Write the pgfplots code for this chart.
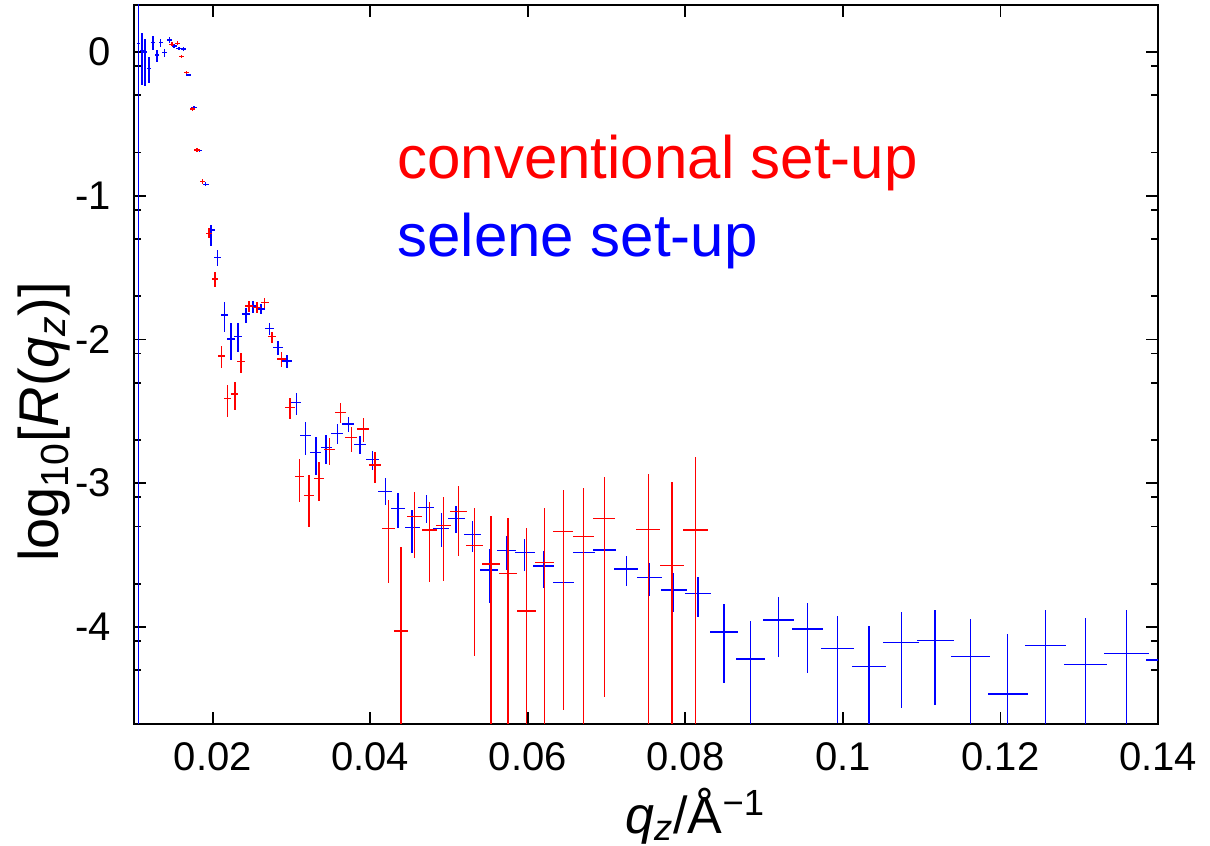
\documentclass[border=0pt]{standalone}
\usepackage{fontspec}
\setmainfont{Liberation Sans}
\usepackage{pgfplots}
\pgfplotsset{compat=1.18}
\usepackage{pgfplotstable}

\pgfplotstableread{
x y ex ep em
0.0106 0.061 0.00022 1 6
0.0110 0.010 0.00023 0.12 0.24
0.0114 0.000 0.00024 0.09 0.24
0.0119 -0.113 0.00025 0.08 0.10
0.0124 0.065 0.00026 0.046 0.051
0.0129 -0.021 0.00027 0.035 0.046
0.0134 0.065 0.00028 0.023 0.032
0.0139 -0.005 0.00029 0.024 0.028
0.0145 0.083 0.00030 0.02 0.02
0.0151 0.042 0.00032 0.015 0.015
0.0157 0.026 0.00033 0.012 0.012
0.0163 0.021 0.00034 0.012 0.012
0.0169 -0.160 0.00035 0.010 0.010
0.0176 -0.385 0.00037 0.012 0.012
0.0183 -0.687 0.00038 0.012 0.012
0.0191 -0.920 0.00040 0.015 0.015
0.0198 -1.238 0.00042 0.035 0.112
0.0206 -1.428 0.00043 0.051 0.061
0.0215 -1.830 0.00045 0.089 0.120
0.0223 -1.997 0.00047 0.110 0.146
0.0232 -1.981 0.00049 0.094 0.104
0.0242 -1.823 0.00051 0.040 0.060
0.0251 -1.767 0.00053 0.037 0.047
0.0261 -1.788 0.00055 0.035 0.037
0.0272 -1.922 0.00057 0.035 0.047
0.0283 -2.057 0.00059 0.047 0.051
0.0294 -2.150 0.00062 0.042 0.050
0.0306 -2.440 0.00064 0.070 0.085
0.0318 -2.669 0.00067 0.097 0.134
0.0331 -2.787 0.00070 0.111 0.156
0.0344 -2.753 0.00072 0.089 0.113
0.0358 -2.652 0.00075 0.064 0.075
0.0372 -2.588 0.00078 0.051 0.058
0.0387 -2.729 0.00081 0.058 0.070
0.0403 -2.833 0.00085 0.059 0.075
0.0419 -3.059 0.00088 0.093 0.092
0.0435 -3.174 0.00091 0.104 0.139
0.0453 -3.309 0.00095 0.123 0.174
0.0471 -3.170 0.00099 0.088 0.104
0.0490 -3.313 0.00103 0.104 0.133
0.0509 -3.244 0.00107 0.086 0.100
0.0530 -3.355 0.00111 0.092 0.121
0.0551 -3.603 0.00116 0.144 0.228
0.0573 -3.469 0.00120 0.102 0.134
0.0596 -3.483 0.00125 0.095 0.125
0.0620 -3.576 0.00130 0.107 0.151
0.0645 -3.692 0.00135 0.135 0.185
0.0671 -3.483 0.00141 0.076 0.102
0.0697 -3.464 0.00146 0.069 0.089
0.0725 -3.597 0.00152 0.091 0.116
0.0754 -3.654 0.00158 0.097 0.128
0.0785 -3.743 0.00165 0.117 0.151
0.0816 -3.766 0.00171 0.116 0.162
0.0849 -4.035 0.00178 0.193 0.357
0.0883 -4.223 0.00185 0.265 2
0.0918 -3.951 0.00193 0.158 0.256
0.0955 -4.014 0.00201 0.179 0.308
0.0993 -4.148 0.00209 0.227 0.522
0.1033 -4.276 0.00217 0.285 2
0.1074 -4.109 0.00226 0.211 0.457
0.1117 -4.095 0.00235 0.213 0.448
0.1162 -4.207 0.00244 0.263 2
0.1209 -4.466 0.00254 0.415 2
0.1257 -4.130 0.00264 0.248 2
0.1308 -4.259 0.00275 0.320 2
0.1360 -4.183 0.00286 0.301 2
0.1414 -4.230 0.00297 0.300 2
}\bluedata

\pgfplotstableread{
x y ex ep em
0.0148 0.054 0.00030 0.015 0.015
0.0155 0.061 0.00031 0.015 0.015
0.0160 -0.033 0.00032 0.012 0.012
0.0167 -0.144 0.00033 0.012 0.012
0.0174 -0.397 0.00035 0.012 0.012
0.0180 -0.682 0.00036 0.015 0.015
0.0187 -0.902 0.00037 0.015 0.015
0.0195 -1.261 0.00039 0.035 0.035
0.0203 -1.579 0.00041 0.046 0.054
0.0211 -2.115 0.00042 0.072 0.085
0.0219 -2.409 0.00044 0.092 0.128
0.0228 -2.379 0.00046 0.081 0.111
0.0236 -2.154 0.00047 0.058 0.077
0.0246 -1.767 0.00049 0.037 0.040
0.0256 -1.776 0.00051 0.035 0.037
0.0266 -1.744 0.00053 0.035 0.039
0.0275 -1.981 0.00055 0.035 0.045
0.0287 -2.136 0.00057 0.051 0.057
0.0298 -2.474 0.00060 0.065 0.081
0.0310 -2.954 0.00062 0.121 0.174
0.0322 -3.087 0.00064 0.144 0.215
0.0335 -2.966 0.00067 0.112 0.155
0.0348 -2.764 0.00070 0.077 0.109
0.0362 -2.509 0.00072 0.065 0.074
0.0376 -2.683 0.00075 0.076 0.098
0.0391 -2.623 0.00078 0.075 0.088
0.0406 -2.873 0.00081 0.092 0.127
0.0423 -3.316 0.00085 0.199 0.380
0.0439 -4.028 0.00088 0.582 2
0.0456 -3.233 0.00091 0.174 0.285
0.0475 -3.325 0.00095 0.197 0.360
0.0493 -3.295 0.00099 0.197 0.383
0.0512 -3.198 0.00102 0.179 0.306
0.0532 -3.434 0.00106 0.260 0.766
0.0553 -3.562 0.00111 0.334 2
0.0575 -3.626 0.00115 0.382 2
0.0598 -3.889 0.00120 0.580 2
0.0621 -3.550 0.00124 0.380 2
0.0645 -3.337 0.00129 0.290 1.240
0.0671 -3.372 0.00134 0.337 2
0.0697 -3.244 0.00139 0.285 1.241
0.0753 -3.320 0.00151 0.382 2
0.0783 -3.574 0.00157 0.581 2
0.0813 -3.325 0.00163 0.506 2
}\reddata

\begin{document}
\begin{tikzpicture}
\useasboundingbox (-67bp,-61bp) rectangle (538bp,362bp);
\begin{axis}[
  at={(0,0)}, anchor=south west,
  scale only axis, width=512bp, height=359.5bp,
  xmin=0.01, xmax=0.14, ymin=-4.675, ymax=0.327,
  xtick={0.02,0.04,0.06,0.08,0.1,0.12,0.14},
  xticklabels={0.02,0.04,0.06,0.08,0.1,0.12,0.14},
  ytick={-4,-3,-2,-1,0},
  yticklabels={-4,-3,-2,-1,0},
  minor ytick={-0.097,-0.301,-0.699,-1.097,-1.301,-1.699,-2.097,-2.301,-2.699,-3.097,-3.301,-3.699,-4.097,-4.301},
  tick align=inside,
  major tick length=6bp, minor tick length=3.5bp,
  axis line style={line width=1.1bp},
  every tick/.append style={black, line width=0.9bp},
  ticklabel style={font=\fontsize{20bp}{22bp}\selectfont},
  yticklabel style={xshift=-8bp},
  xticklabel style={yshift=-6bp},
  xlabel={\textit{q}\textsubscript{\textit{z}}/Å\textsuperscript{−1}},
  xlabel style={at={(axis description cs:0.548,-0.152)}, anchor=base, font=\fontsize{26bp}{28bp}\selectfont},
  ylabel={log\textsubscript{10}[\textit{R}(\textit{q}\textsubscript{\textit{z}})]},
  ylabel style={at={(axis description cs:-0.088,0.42)}, anchor=center, font=\fontsize{28bp}{30bp}\selectfont},
  clip=true,
]
\addplot[draw=none, mark=none,
  error bars/.cd, x dir=both, x explicit, y dir=both, y explicit,
  error mark=none, error bar style={solid, draw=blue, line width=0.7bp}]
  table[x=x, y=y, x error=ex, y error plus=ep, y error minus=em] {\bluedata};
\addplot[draw=none, mark=none,
  error bars/.cd, x dir=both, x explicit, y dir=both, y explicit,
  error mark=none, error bar style={solid, draw=red, line width=0.7bp}]
  table[x=x, y=y, x error=ex, y error plus=ep, y error minus=em] {\reddata};
\node[anchor=west, text=red, inner sep=0pt, font=\fontsize{30bp}{32bp}\selectfont] at (axis cs:0.0434,-0.772) {conventional set-up};
\node[anchor=west, text=blue, inner sep=0pt, font=\fontsize{30bp}{32bp}\selectfont] at (axis cs:0.0434,-1.315) {selene set-up};
\end{axis}
\end{tikzpicture}
\end{document}
